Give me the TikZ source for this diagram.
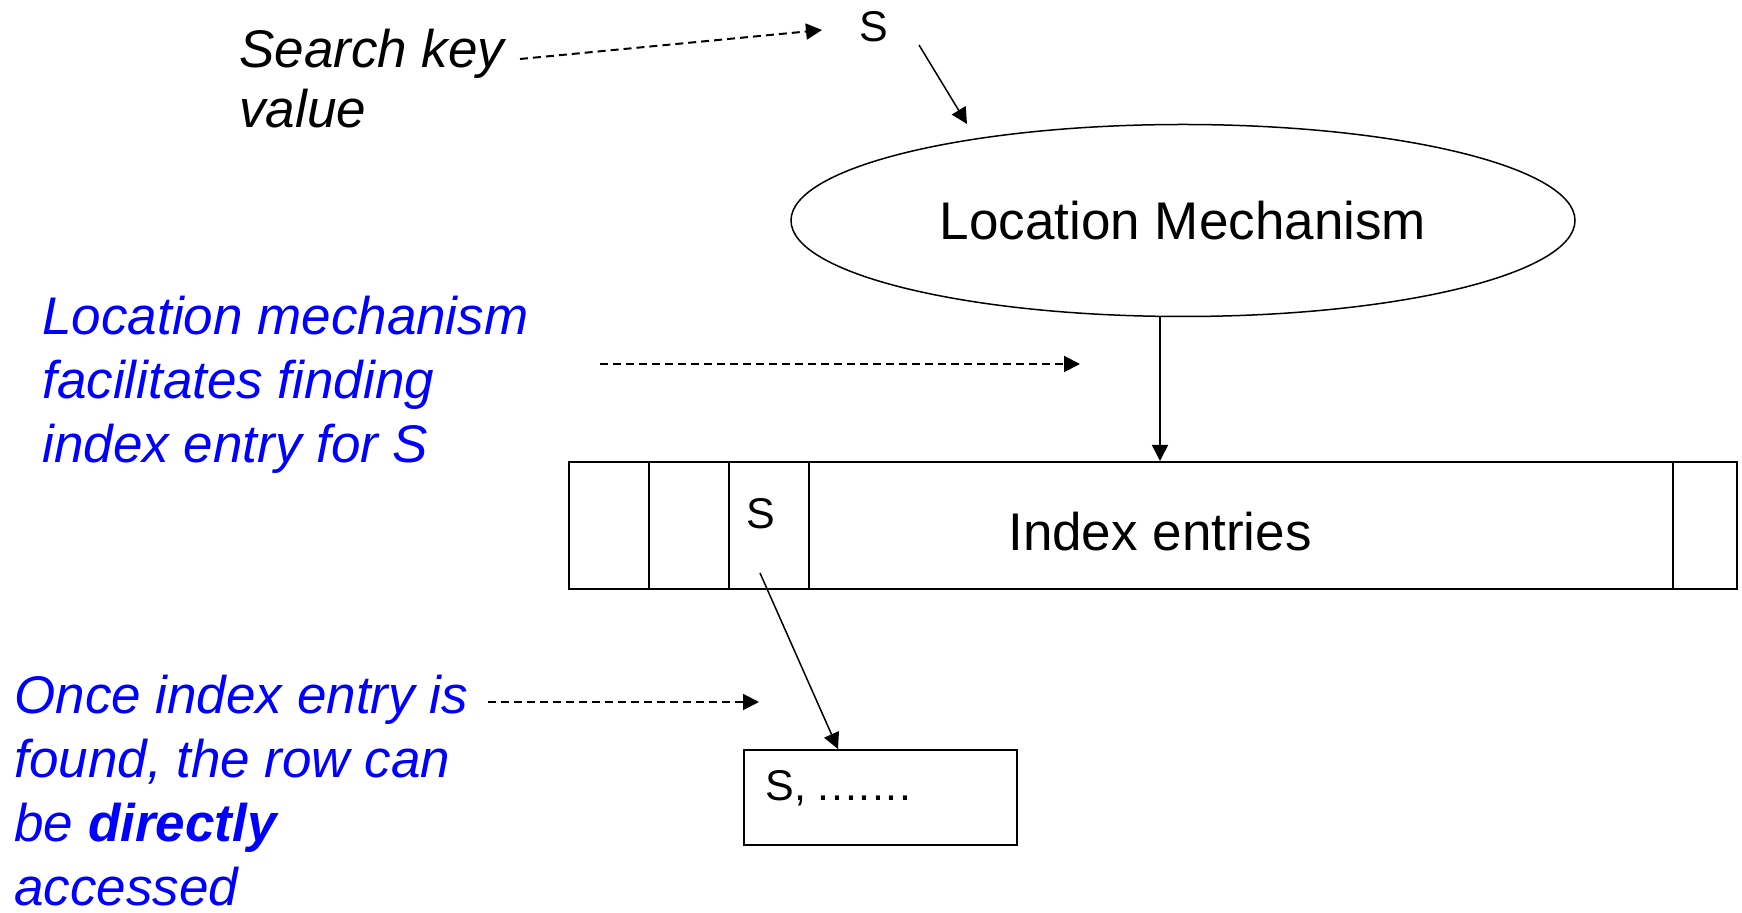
\documentclass[tikz,border=0pt]{standalone}
\usepackage{fontspec}
\setmainfont{Liberation Sans}
\usetikzlibrary{arrows.meta,shapes.geometric}
\definecolor{noteblue}{RGB}{0,0,255}
\newcommand\txtbig{\fontsize{26.5}{32}\selectfont}
\newcommand\txtsmall{\fontsize{21.5}{26}\selectfont}
\begin{document}
\begin{tikzpicture}[x=0.5pt,y=-0.5pt,
  cell/.style={draw, line width=1pt, minimum height=63.5pt, inner sep=0pt, anchor=north west},
  bigtext/.style={font=\txtbig, inner sep=0pt},
  smalltext/.style={font=\txtsmall, inner sep=0pt},
  note/.style={font=\txtbig\itshape, text=noteblue, inner sep=0pt, align=left, anchor=base west},
  arr/.style={-{Triangle[length=8pt,width=8pt]}, line width=0.75pt},
  darr/.style={arr, line width=1pt, dash pattern=on 4pt off 2.5pt}]
\useasboundingbox (0,0) rectangle (1742,913);

% search key and its symbol (base anchor sits on the last line)
\node[font=\fontsize{26.5}{30}\selectfont\itshape, inner sep=0pt, align=left, anchor=base west] (search) at (239,128) {Search key\\value};
\node[smalltext, anchor=base] (topS) at (874,42) {S};

% location mechanism
\node[ellipse, draw, line width=0.75pt, minimum width=392pt, minimum height=96pt, inner sep=0pt, bigtext] (loc) at (1183,220.5) {Location Mechanism};

% index entries strip
\node[cell, minimum width=40pt] (c1) at (568,461) {};
\node[cell, minimum width=40pt] (c2) at (648,461) {};
\node[cell, minimum width=40pt] (c3) at (728,461) {};
\node[cell, minimum width=432pt] (body) at (808,461) {};
\node[cell, minimum width=32pt] (c5) at (1672,461) {};
\node[smalltext, anchor=base] (idxS) at (761,529) {S};
\node[bigtext, anchor=base] (idxlbl) at (1160,551) {Index entries};

% the row
\node[draw, line width=1pt, minimum width=136.5pt, minimum height=47.5pt, inner sep=0pt, anchor=north west] (row) at (743,749) {};
\node[smalltext, anchor=base west] (rowtxt) at (765,801) {S, .\kern0.8pt.\kern0.8pt.\kern0.8pt.\kern0.8pt.\kern0.8pt.\kern0.8pt.};

% notes (base anchor sits on the last line)
\node[note] (note1) at (42,463) {Location mechanism\\facilitates finding\\index entry for S};
\node[note] (note2) at (14,906) {Once index entry is\\found, the row can\\be \textbf{directly}\\accessed};

% connector ends
\coordinate (s1) at (919,45);
\coordinate (s2) at (967,124);
\coordinate (ix) at (1160,0);
\coordinate (r1) at (760,573);
\coordinate (r2) at (838,749);
\coordinate (d1a) at (520,59);
\coordinate (d1b) at (822,30);
\coordinate (d2a) at (600,364);
\coordinate (d2b) at (1080,364);
\coordinate (d3a) at (488,702);
\coordinate (d3b) at (759,702);

% solid connectors
\draw[arr] (s1) -- (s2);
\draw[arr] (loc.south -| ix) -- (body.north -| ix);
\draw[arr] (r1) -- (r2);

% dashed pointers from the notes
\draw[darr] (d1a) -- (d1b);
\draw[darr] (d2a) -- (d2b);
\draw[darr] (d3a) -- (d3b);
\end{tikzpicture}
\end{document}
